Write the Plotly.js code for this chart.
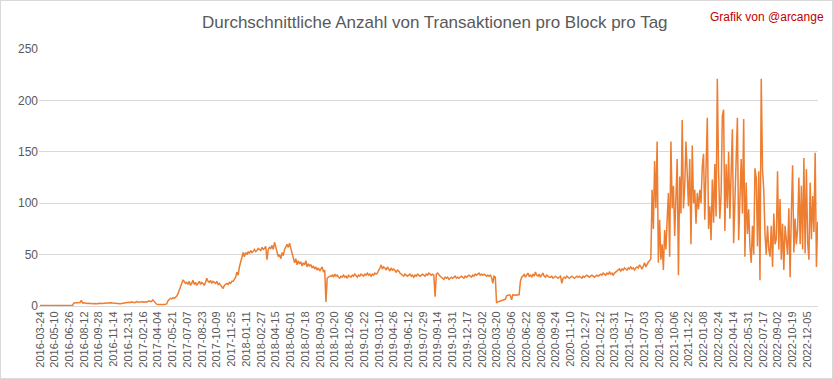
<!DOCTYPE html>
<html>
<head>
<meta charset="utf-8">
<script src="https://cdn.plot.ly/plotly-3.0.1.min.js"></script>
<style>
html,body{margin:0;padding:0;background:#fff;}
#frame{width:833px;height:379px;box-sizing:border-box;border:1px solid #D9D9D9;}
#chart{width:831px;height:377px;}
</style>
</head>
<body>
<div id="frame"><div id="chart"></div></div>
<script>
const startDate = '2016-03-24';
const stepDays = 4;

const valsEarly = [
  0.4,0.4,0.4,0.4,0.4,0.4,0.4,0.4,0.4,0.4,0.4,0.4,0.4,0.4,0.4,0.4,0.4,0.4,0.4,0.4,0.4,0.4,0.4,0.4,0.4,0.4,0.4,
  3,3.2,3.5,3,3.2,3.4,5.5,
  3,3.2,2.8,3,2.5,2.7,2.3,2.5,2.2,2.4,2.2,2.5,2.3,2.6,2.4,2.2,2.5,
  2.6,2.8,2.7,3,2.8,3.1,3.2,3,2.8,2.5,2.3,2.2,2.4,2.2,2.5,2.8,2.6,3,3.2,3.4,
  3.6,3.2,4.2,3.5,3.8,3.4,4.5,3.6,3.9,3.5,3.8,4.2,3.6,4,3.7,4.4,5,4.2,4.6,
  6,4.5,3.5,1.8,1.5,1.4,1.5,1.6,1.8,1.5,1.7,2,
  5,6.5,7.5,7,8,7.5,8.5,9.5,12,15,18,22,25,
  24,22,23,21,24,20,22,25,21,23,20,22,24,21,23,22,20,23,27,24,23,25,22,24,23,22,24,21,22,20,19,17,20,21,22,21,23,22,24,
  24,26,28,33,30,38,42,48,52,48
];

const valsPlateau = [
  52,
  50,53,51,54,52,53,55,53,54,56,55,
  54,57,55,56,58,45,55,57,56,59,55,62,57,54,
  48,50,46,52,49,
  55,58,60,57,61,56,52,46,
  42,46,40,44,41,43,39,42,40,44,38,41,39,
  40,37,39,36,38,35,37,34,36,38,33,35,
  4,
  27,28,29,
  29,30,28,31,29,30,28,27,29,28,30,28,29,27,30,29,28,30,29,31,29,28,30,29,31,30,29,31,30,32,30,31,29,31,30,32,31,
  32,34,37,40,36,38,37,35,38,36,34,37,35,36,34,33,35,34,32,
  31,30,29,31,30,29,30,31,29,30,28,30,29,31,30,29,30,31,30,29,31,30,32,31,30,31,
  30,9,31,32,30,
  29,28,27,26,28,27,28,26,27,28,27,28,29,27,28,27,28,29,28,27,29,28,29,30,29,28,30,29,31,30,31,32,30,31,30,31,30,29,30,29,30,28,
  22,29,28
];

const valsMid = [
  3,
  4,4.5,5,5.5,6,6,6.5,
  10,10.5,11,10.5,6,11,10.5,11,10.5,11,11,
  24,
  28,29,31,28,30,32,29,30,28,31,29,33,30,29,31,28,30,32,29,28,30,29,28,
  28,29,27,28,29,28,27,28,29,22,27,28,27,29,28,27,28,29,28,27,28,29,28,29,28,27,29,28,29,30,29,28,29,30,29,28,29,30,29,30,
  31,30,32,31,30,32,31,33,31,32,30,32,33,
  34,35,36,34,36,35,37,36,35,37,36,38,36,37,35,37,
  38,37,40,38,36,39,42,38,41,43,44,46
];

const valsVolatile = [
  113,75,141,95,160,42,84,45,60,35,74,55,84,110,48,160,95,117,68,113,
  143,30,126,90,181,95,117,160,123,97,143,60,156,100,113,80,110,94,113,100,
  136,148,84,152,183,75,97,64,123,81,138,87,221,130,85,108,185,191,73,138,
  95,150,85,130,172,61,105,130,183,64,110,143,90,182,48,120,70,94,58,42,
  78,50,134,125,58,131,25,221,133,113,70,50,78,55,48,78,38,90,60,65,
  131,55,104,45,80,35,78,62,50,95,28,90,137,52,85,60,75,125,60,117,
  55,144,51,133,62,45,120,65,107,72,149,38,82
];

const tickDates = [
  '2016-03-24','2016-05-10','2016-06-26','2016-08-12','2016-09-28','2016-11-14','2016-12-31',
  '2017-02-16','2017-04-04','2017-05-21','2017-07-07','2017-08-23','2017-10-09','2017-11-25',
  '2018-01-11','2018-02-27','2018-04-15','2018-06-01','2018-07-18','2018-09-03','2018-10-20','2018-12-06',
  '2019-01-22','2019-03-10','2019-04-26','2019-06-12','2019-07-29','2019-09-14','2019-10-31','2019-12-17',
  '2020-02-02','2020-03-20','2020-05-06','2020-06-22','2020-08-08','2020-09-24','2020-11-10','2020-12-27',
  '2021-02-12','2021-03-31','2021-05-17','2021-07-03','2021-08-20','2021-10-06','2021-11-22',
  '2022-01-08','2022-02-24','2022-04-14','2022-05-31','2022-07-17','2022-09-02','2022-10-19','2022-12-05'
];

const values = valsEarly.concat(valsPlateau, valsMid, valsVolatile);
const t0 = Date.parse(startDate + 'T00:00:00Z');
const dates = values.map((v, i) => new Date(t0 + i * stepDays * 86400000).toISOString().slice(0, 10));

const trace = {
  x: dates, y: values, type: 'scatter', mode: 'lines',
  line: {color: '#ED7D31', width: 1.5},
  hoverinfo: 'x+y'
};

const layout = {
  width: 831, height: 377,
  margin: {l: 38, r: 14, t: 48, b: 72},
  paper_bgcolor: '#ffffff', plot_bgcolor: '#ffffff',
  showlegend: false,
  title: {
    text: 'Durchschnittliche Anzahl von Transaktionen pro Block pro Tag',
    font: {family: 'Liberation Sans, Arial, sans-serif', size: 17, color: '#595959'},
    xref: 'container', x: 0.522, xanchor: 'center',
    yref: 'container', y: 0.945, yanchor: 'middle'
  },
  xaxis: {
    type: 'date',
    range: ['2016-03-21', '2023-01-08'],
    tickmode: 'array', tickvals: tickDates, ticktext: tickDates,
    tickangle: -90,
    tickfont: {family: 'Liberation Sans, Arial, sans-serif', size: 11, color: '#595959'},
    showgrid: false, showline: true, linecolor: '#D9D9D9', linewidth: 1,
    ticks: '', zeroline: false, fixedrange: true
  },
  yaxis: {
    range: [0, 250], tickvals: [0, 50, 100, 150, 200, 250],
    tickfont: {family: 'Liberation Sans, Arial, sans-serif', size: 12, color: '#595959'},
    showgrid: true, gridcolor: '#D9D9D9', gridwidth: 1,
    zeroline: false, showline: false, ticks: '', fixedrange: true
  },
  annotations: [{
    text: 'Grafik von @arcange',
    xref: 'paper', yref: 'paper', x: 1.01, y: 1.125,
    xanchor: 'right', yanchor: 'middle', showarrow: false,
    font: {family: 'Liberation Sans, Arial, sans-serif', size: 12, color: '#C00000'}
  }]
};

Plotly.newPlot('chart', [trace], layout, {displayModeBar: false, staticPlot: true});
</script>
</body>
</html>
